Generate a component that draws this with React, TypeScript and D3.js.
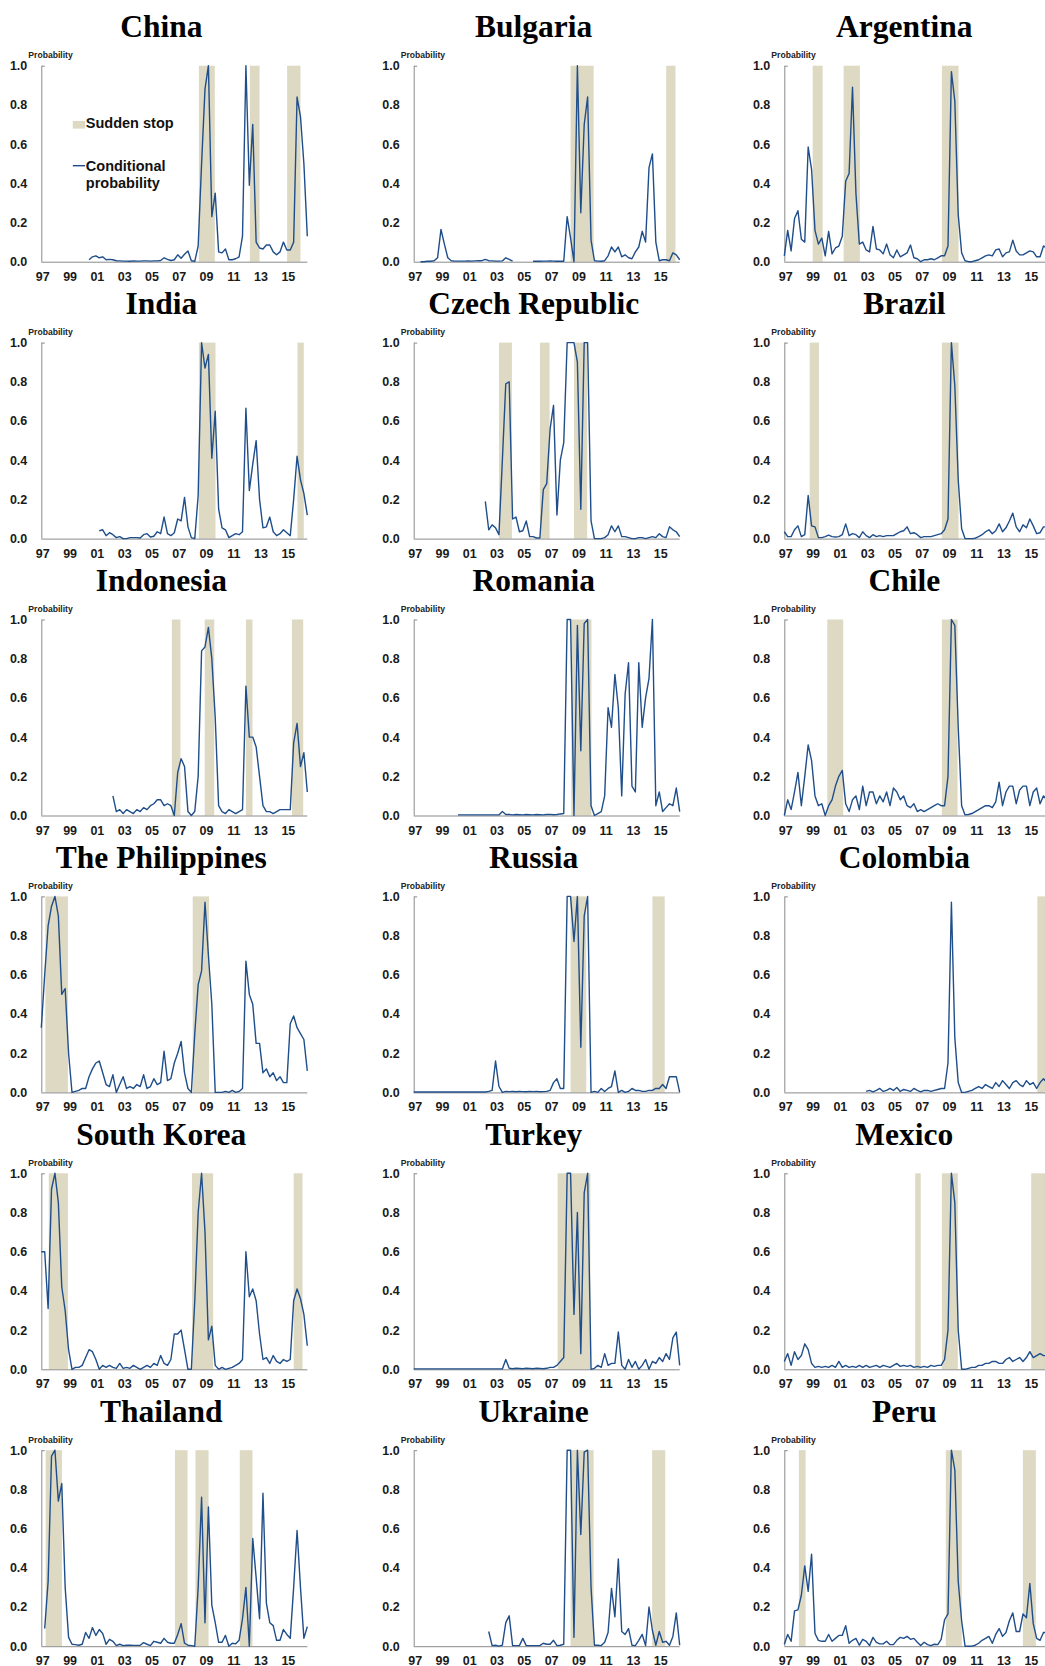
import * as d3 from 'd3';

// quarterly conditional probability, first value at `start`, null = no data
const yearTicks = [1997, 1999, 2001, 2003, 2005, 2007, 2009, 2011, 2013, 2015];
const yearLabels = ['97', '99', '01', '03', '05', '07', '09', '11', '13', '15'];
const probTicks = [0, 0.2, 0.4, 0.6, 0.8, 1.0];

const china = {
  name: 'China', start: 2000.5,
  prob: [0.01, 0.025, 0.03, 0.02, 0.025, 0.01, 0.012, 0.01, 0.005, 0.004, 0.003, 0.003, 0.002, 0.004, 0.003, 0.003,
    0.004, 0.004, 0.003, 0.004, 0.004, 0.006, 0.02, 0.012, 0.006, 0.01, 0.035, 0.018, 0.038, 0.055, 0.005, 0.002,
    0.08, 0.5, 0.88, 1.0, 0.23, 0.35, 0.05, 0.045, 0.065, 0.01, 0.01, 0.015, 0.025, 0.13, 1.0, 0.39, 0.7, 0.1,
    0.07, 0.065, 0.085, 0.085, 0.05, 0.035, 0.05, 0.1, 0.06, 0.06, 0.1, 0.84, 0.74, 0.5, 0.13],
  stops: [[2008.55, 2009.72], [2012.29, 2013.0], [2015.02, 2016.0]],
};
const bulgaria = {
  name: 'Bulgaria', start: 1997.5,
  prob: [0.0, 0.0, 0.002, 0.002, 0.005, 0.02, 0.165, 0.09, 0.02, 0.005, 0.003, 0.003, 0.003, 0.003, 0.004, 0.003,
    0.004, 0.005, 0.005, 0.012, 0.005, 0.004, 0.003, 0.003, 0.004, 0.02, 0.012, 0.003, null, null, null, null, null,
    0.002, 0.002, 0.002, 0.003, 0.003, 0.004, 0.003, 0.002, 0.002, 0.002, 0.23, 0.12, 0.0, 1.0, 0.25, 0.7, 0.84,
    0.11, 0.005, 0.003, 0.002, 0.005, 0.03, 0.075, 0.05, 0.075, 0.025, 0.035, 0.02, 0.015, 0.05, 0.075, 0.155,
    0.1, 0.48, 0.55, 0.1, 0.005, 0.01, 0.01, 0.005, 0.045, 0.035, 0.01],
  stops: [[2008.5, 2010.19], [2015.51, 2016.19]],
};
const argentina = {
  name: 'Argentina', start: 1997,
  prob: [0.03, 0.16, 0.055, 0.22, 0.26, 0.115, 0.1, 0.585, 0.47, 0.16, 0.09, 0.12, 0.03, 0.155, 0.04, 0.07,
    0.08, 0.13, 0.41, 0.45, 0.89, 0.35, 0.09, 0.1, 0.06, 0.05, 0.18, 0.065, 0.06, 0.04, 0.09, 0.035,
    0.02, 0.06, 0.025, 0.035, 0.045, 0.085, 0.02, 0.015, 0.0, 0.01, 0.01, 0.015, 0.01, 0.02, 0.03, 0.03,
    0.08, 0.97, 0.82, 0.24, 0.045, 0.005, 0.0, 0.0, 0.005, 0.01, 0.02, 0.03, 0.035, 0.03, 0.06, 0.065,
    0.025, 0.045, 0.05, 0.11, 0.055, 0.035, 0.035, 0.045, 0.055, 0.05, 0.025, 0.025, 0.08, 0.07, 0.06],
  stops: [[1999.08, 1999.81], [2001.35, 2002.54], [2008.55, 2009.77]],
};
const india = {
  name: 'India', start: 2001.25,
  prob: [0.04, 0.045, 0.015, 0.03, 0.02, 0.005, 0.01, 0.0, 0.0, 0.005, 0.005, 0.005, 0.003, 0.02, 0.025,
    0.008, 0.012, 0.035, 0.025, 0.11, 0.025, 0.015, 0.03, 0.1, 0.09, 0.21, 0.06, 0.005, 0.0, 0.22, 1.0,
    0.87, 0.94, 0.41, 0.65, 0.15, 0.055, 0.045, 0.005, 0.015, 0.025, 0.02, 0.035, 0.665, 0.245, 0.38, 0.5,
    0.2, 0.055, 0.06, 0.11, 0.035, 0.015, 0.025, 0.045, 0.03, 0.015, 0.2, 0.42, 0.3, 0.23, 0.12],
  stops: [[2008.55, 2009.77], [2015.78, 2016.24]],
};
const czech = {
  name: 'Czech Republic', start: 2002.25,
  prob: [0.19, 0.045, 0.07, 0.055, 0.02, 0.4, 0.79, 0.8, 0.1, 0.11, 0.035, 0.04, 0.09, 0.01, 0.01,
    0.003, 0.003, 0.25, 0.28, 0.56, 0.68, 0.12, 0.4, 0.49, 1.0, 1.0, 1.0, 0.9, 0.15, 1.0, 1.0,
    0.09, 0.0, 0.0, 0.0, 0.005, 0.02, 0.065, 0.035, 0.065, 0.01, 0.01, 0.005, 0.0, 0.0, 0.005, 0.005,
    0.0, 0.005, 0.01, 0.005, 0.025, 0.01, 0.005, 0.06, 0.045, 0.035, 0.01],
  stops: [[2003.25, 2004.2], [2006.25, 2006.96], [2008.75, 2009.72]],
};
const brazil = {
  name: 'Brazil', start: 1997,
  prob: [0.035, 0.01, 0.01, 0.045, 0.065, 0.01, 0.02, 0.22, 0.065, 0.06, 0.005, 0.005, 0.01, 0.018, 0.01, 0.008,
    0.01, 0.02, 0.075, 0.015, 0.025, 0.02, 0.005, 0.035, 0.015, 0.005, 0.02, 0.01, 0.015, 0.01, 0.015, 0.015,
    0.015, 0.025, 0.035, 0.04, 0.06, 0.025, 0.03, 0.02, 0.005, 0.01, 0.01, 0.01, 0.015, 0.02, 0.025, 0.045,
    0.1, 1.0, 0.78, 0.3, 0.05, 0.0, 0.0, 0.0, 0.002, 0.01, 0.02, 0.035, 0.045, 0.025, 0.04, 0.075,
    0.035, 0.055, 0.09, 0.13, 0.06, 0.035, 0.07, 0.055, 0.1, 0.065, 0.025, 0.03, 0.06, 0.06, 0.06],
  stops: [[1998.86, 1999.54], [2008.55, 2009.77]],
};
const indonesia = {
  name: 'Indonesia', start: 2002.25,
  prob: [0.1, 0.02, 0.03, 0.01, 0.03, 0.02, 0.01, 0.03, 0.02, 0.04, 0.03, 0.05, 0.06, 0.08, 0.08,
    0.05, 0.06, 0.05, 0.0, 0.22, 0.29, 0.25, 0.02, 0.0, 0.02, 0.2, 0.84, 0.86, 0.96, 0.8, 0.5,
    0.05, 0.02, 0.01, 0.03, 0.02, 0.01, 0.02, 0.03, 0.66, 0.4, 0.4, 0.35, 0.2, 0.05, 0.02, 0.02,
    0.01, 0.02, 0.03, 0.03, 0.03, 0.03, 0.37, 0.47, 0.25, 0.32, 0.12],
  stops: [[2006.57, 2007.2], [2008.98, 2009.68], [2012.0, 2012.48], [2015.37, 2016.2]],
};
const romania = {
  name: 'Romania', start: 2000.25,
  prob: [0.003, 0.003, 0.003, 0.003, 0.003, 0.003, 0.003, 0.003, 0.003, 0.003, 0.003, 0.003, 0.003, 0.02, 0.005,
    0.005, 0.003, 0.005, 0.004, 0.003, 0.005, 0.004, 0.003, 0.005, 0.004, 0.003, 0.005, 0.006, 0.004, 0.005, 0.008,
    0.01, 1.0, 1.0, 0.0, 0.97, 0.33, 0.98, 1.0, 0.05, 0.0, 0.01, 0.02, 0.1, 0.55, 0.45, 0.72,
    0.55, 0.1, 0.62, 0.78, 0.15, 0.12, 0.78, 0.45, 0.6, 0.7, 1.0, 0.05, 0.12, 0.02, 0.04, 0.06,
    0.05, 0.14, 0.02],
  stops: [[2008.55, 2010.03]],
};
const chile = {
  name: 'Chile', start: 1997,
  prob: [0.0, 0.08, 0.03, 0.12, 0.22, 0.05, 0.2, 0.36, 0.28, 0.1, 0.05, 0.06, 0.0, 0.05, 0.08, 0.15,
    0.2, 0.23, 0.06, 0.02, 0.08, 0.1, 0.03, 0.15, 0.05, 0.12, 0.12, 0.06, 0.1, 0.07, 0.12, 0.05,
    0.14, 0.12, 0.08, 0.1, 0.05, 0.04, 0.06, 0.02, 0.03, 0.02, 0.03, 0.04, 0.05, 0.06, 0.05, 0.05,
    0.2, 1.0, 0.97, 0.45, 0.05, 0.003, 0.005, 0.01, 0.02, 0.03, 0.04, 0.05, 0.05, 0.04, 0.07, 0.17,
    0.05, 0.12, 0.15, 0.15, 0.06, 0.13, 0.15, 0.15, 0.05, 0.12, 0.14, 0.06, 0.1, 0.08, 0.1],
  stops: [[2000.15, 2001.32], [2008.55, 2009.7]],
};
const philippines = {
  name: 'The Philippines', start: 1997,
  prob: [0.33, 0.6, 0.85, 0.95, 1.0, 0.9, 0.5, 0.53, 0.2, 0.0, 0.005, 0.01, 0.02, 0.02, 0.08, 0.12,
    0.15, 0.16, 0.1, 0.04, 0.03, 0.09, 0.0, 0.04, 0.08, 0.02, 0.03, 0.02, 0.04, 0.03, 0.09, 0.02,
    0.03, 0.07, 0.04, 0.05, 0.21, 0.06, 0.07, 0.15, 0.2, 0.26, 0.1, 0.02, 0.0, 0.3, 0.55, 0.62,
    0.97, 0.7, 0.45, 0.0, 0.0, 0.0, 0.005, 0.0, 0.01, 0.0, 0.005, 0.02, 0.67, 0.5, 0.45, 0.25,
    0.25, 0.1, 0.12, 0.08, 0.1, 0.06, 0.08, 0.05, 0.05, 0.35, 0.39, 0.33, 0.3, 0.27, 0.11],
  stops: [[1997.3, 1998.95], [2008.1, 2009.3]],
};
const russia = {
  name: 'Russia', start: 1997,
  prob: [0.002, 0.002, 0.002, 0.002, 0.002, 0.002, 0.002, 0.002, 0.002, 0.002, 0.002, 0.002, 0.002, 0.002, 0.002, 0.002,
    0.002, 0.002, 0.002, 0.002, 0.002, 0.002, 0.005, 0.01, 0.16, 0.03, 0.0, 0.005, 0.004, 0.005, 0.003, 0.005,
    0.004, 0.003, 0.005, 0.004, 0.005, 0.003, 0.004, 0.005, 0.01, 0.05, 0.07, 0.02, 0.02, 1.0, 1.0, 0.77,
    1.0, 0.23, 0.9, 1.0, 0.0, 0.005, 0.0, 0.02, 0.005, 0.02, 0.03, 0.11, 0.0, 0.01, 0.0, 0.005,
    0.02, 0.01, 0.01, 0.005, 0.005, 0.01, 0.01, 0.02, 0.02, 0.04, 0.02, 0.08, 0.08, 0.08, 0.0],
  stops: [[2008.5, 2009.65], [2014.5, 2015.4]],
};
const colombia = {
  name: 'Colombia', start: 2003,
  prob: [0.005, 0.01, 0.003, 0.01, 0.02, 0.005, 0.01, 0.02, 0.01, 0.025, 0.005, 0.015, 0.01, 0.005, 0.02, 0.01,
    0.003, 0.01, 0.01, 0.005, 0.01, 0.015, 0.02, 0.02, 0.15, 0.97, 0.28, 0.05, 0.0, 0.0, 0.005, 0.01,
    0.02, 0.03, 0.02, 0.04, 0.03, 0.02, 0.05, 0.03, 0.06, 0.04, 0.02, 0.05, 0.06, 0.04, 0.03, 0.06,
    0.04, 0.05, 0.02, 0.05, 0.07, 0.05, 0.06],
  stops: [[2015.55, 2016.6]],
};
const southKorea = {
  name: 'South Korea', start: 1997,
  prob: [0.6, 0.6, 0.31, 0.92, 1.0, 0.85, 0.42, 0.3, 0.1, 0.0, 0.01, 0.01, 0.02, 0.06, 0.1, 0.09,
    0.05, 0.0, 0.02, 0.01, 0.02, 0.01, 0.005, 0.03, 0.005, 0.01, 0.005, 0.02, 0.01, 0.0, 0.01, 0.02,
    0.01, 0.03, 0.02, 0.07, 0.03, 0.02, 0.05, 0.18, 0.18, 0.2, 0.1, 0.0, 0.0, 0.35, 0.8, 1.0,
    0.7, 0.15, 0.22, 0.02, 0.0, 0.01, 0.0, 0.005, 0.01, 0.02, 0.03, 0.05, 0.6, 0.37, 0.41, 0.35,
    0.18, 0.05, 0.06, 0.03, 0.07, 0.04, 0.03, 0.05, 0.04, 0.05, 0.35, 0.41, 0.36, 0.28, 0.12],
  stops: [[1997.55, 1998.95], [2008.05, 2009.6], [2015.5, 2016.15]],
};
const turkey = {
  name: 'Turkey', start: 1997,
  prob: [0.002, 0.002, 0.002, 0.002, 0.002, 0.002, 0.002, 0.002, 0.002, 0.002, 0.002, 0.002, 0.002, 0.002, 0.002, 0.002,
    0.002, 0.002, 0.002, 0.002, 0.002, 0.002, 0.002, 0.002, 0.002, 0.002, 0.002, 0.05, 0.005, 0.003, 0.005, 0.004,
    0.003, 0.005, 0.004, 0.003, 0.005, 0.004, 0.003, 0.005, 0.01, 0.01, 0.02, 0.04, 0.06, 1.0, 1.0, 0.28,
    0.8, 0.08, 0.9, 1.0, 0.0, 0.005, 0.02, 0.01, 0.08, 0.02, 0.03, 0.03, 0.19, 0.02, 0.0, 0.05,
    0.01, 0.04, 0.0, 0.02, 0.05, 0.0, 0.04, 0.03, 0.06, 0.04, 0.08, 0.05, 0.16, 0.19, 0.02],
  stops: [[2007.55, 2009.95]],
};
const mexico = {
  name: 'Mexico', start: 1997,
  prob: [0.04, 0.08, 0.02, 0.09, 0.05, 0.07, 0.13, 0.1, 0.03, 0.01, 0.015, 0.01, 0.015, 0.01, 0.02, 0.01,
    0.04, 0.01, 0.02, 0.01, 0.015, 0.01, 0.02, 0.01, 0.02, 0.01, 0.015, 0.02, 0.01, 0.02, 0.015, 0.01,
    0.02, 0.03, 0.015, 0.02, 0.015, 0.02, 0.01, 0.015, 0.01, 0.015, 0.01, 0.02, 0.015, 0.02, 0.02, 0.05,
    0.2, 1.0, 0.85, 0.2, 0.0, 0.0, 0.005, 0.01, 0.01, 0.02, 0.02, 0.03, 0.03, 0.04, 0.04, 0.03,
    0.03, 0.05, 0.06, 0.04, 0.05, 0.06, 0.04, 0.06, 0.09, 0.06, 0.07, 0.08, 0.07, 0.07, 0.07],
  stops: [[2006.6, 2007.0], [2008.55, 2009.72], [2015.1, 2016.6]],
};
const thailand = {
  name: 'Thailand', start: 1997.25,
  prob: [0.09, 0.33, 0.97, 1.0, 0.74, 0.83, 0.3, 0.045, 0.01, 0.008, 0.005, 0.01, 0.07, 0.04, 0.095,
    0.055, 0.085, 0.065, 0.01, 0.035, 0.025, 0.003, 0.01, 0.003, 0.005, 0.005, 0.004, 0.004, 0.005, 0.018, 0.01,
    0.003, 0.025, 0.02, 0.015, 0.04, 0.02, 0.015, 0.015, 0.06, 0.115, 0.015, 0.005, 0.003, 0.0, 0.3, 0.76,
    0.12, 0.71, 0.21, 0.12, 0.02, 0.02, 0.055, 0.0, 0.015, 0.012, 0.03, 0.14, 0.3, 0.0, 0.55, 0.35,
    0.14, 0.78, 0.22, 0.12, 0.105, 0.03, 0.03, 0.085, 0.06, 0.04, 0.3, 0.59, 0.3, 0.04, 0.1],
  stops: [[1997.32, 1998.51], [2006.8, 2007.72], [2008.3, 2009.26], [2011.55, 2012.48]],
};
const ukraine = {
  name: 'Ukraine', start: 2002.5,
  prob: [0.075, 0.003, 0.005, 0.0, 0.005, 0.12, 0.155, 0.003, 0.003, 0.003, 0.04, 0.003, 0.003, 0.003,
    0.003, 0.003, 0.015, 0.01, 0.01, 0.03, 0.003, 0.005, 0.01, 1.0, 1.0, 0.045, 1.0, 0.57, 0.99, 1.0,
    0.3, 0.005, 0.005, 0.003, 0.02, 0.07, 0.295, 0.15, 0.445, 0.075, 0.06, 0.09, 0.005, 0.003, 0.03, 0.06,
    0.003, 0.2, 0.08, 0.005, 0.075, 0.02, 0.025, 0.005, 0.05, 0.17, 0.005],
  stops: [[2008.5, 2010.19], [2014.48, 2015.44]],
};
const peru = {
  name: 'Peru', start: 1997,
  prob: [0.01, 0.06, 0.025, 0.18, 0.185, 0.26, 0.41, 0.28, 0.47, 0.065, 0.03, 0.025, 0.025, 0.06, 0.025, 0.04,
    0.055, 0.055, 0.105, 0.015, 0.03, 0.04, 0.005, 0.035, 0.025, 0.003, 0.045, 0.02, 0.012, 0.012, 0.025, 0.008,
    0.008, 0.03, 0.045, 0.04, 0.05, 0.035, 0.04, 0.02, 0.003, 0.02, 0.008, 0.003, 0.01, 0.008, 0.035, 0.135,
    0.165, 1.0, 0.9, 0.33, 0.13, 0.0, 0.0, 0.0, 0.005, 0.015, 0.03, 0.04, 0.05, 0.015, 0.06, 0.09,
    0.05, 0.07, 0.13, 0.17, 0.075, 0.075, 0.165, 0.145, 0.32, 0.115, 0.04, 0.03, 0.07, 0.07, 0.07],
  stops: [[1998.07, 1998.56], [2008.84, 2010.01], [2014.49, 2015.44]],
};

const panels = [
  china, bulgaria, argentina,
  india, czech, brazil,
  indonesia, romania, chile,
  philippines, russia, colombia,
  southKorea, turkey, mexico,
  thailand, ukraine, peru,
];

const W = 1045;
const H = 1666;
const colX = [41.3, 413.7, 784.3];
const rowTop = 65.7;
const rowStep = 276.9;
const plotW = 266;
const plotH = 196;

const lineColor = '#1f4e8a';
const shadeColor = '#ddd9c3';
const axisColor = '#8a8a8a';
const sans = '"Liberation Sans", Arial, Helvetica, sans-serif';
const serif = '"Liberation Serif", "Times New Roman", Times, serif';

const x = d3.scaleLinear().domain([1997, 2016.5]).range([0, plotW]);
const y = d3.scaleLinear().domain([0, 1]).range([plotH, 0]);

type Pt = { t: number; v: number | null };

const line = d3.line<Pt>()
  .defined(d => d.v !== null)
  .x(d => x(d.t))
  .y(d => y(d.v as number));

function Legend() {
  return (
    <g fontFamily={sans} fontWeight="bold" fontSize={14.5} fill="#111">
      <rect x={31.5} y={55.3} width={12.3} height={7.6} fill={shadeColor} />
      <text x={44.5} y={62.8}>Sudden stop</text>
      <line x1={31.5} x2={43.8} y1={100} y2={100} stroke={lineColor} strokeWidth={1.4} />
      <text x={44.5} y={105}>Conditional</text>
      <text x={44.5} y={122.6}>probability</text>
    </g>
  );
}

function Panel({ p, i }: { p: any; i: number }) {
  const col = i % 3;
  const row = Math.floor(i / 3);
  const left = colX[col];
  const top = rowTop + row * rowStep;
  const pts: Pt[] = p.prob.map((v: number | null, k: number) => ({ t: p.start + k * 0.25, v }));

  return (
    <g transform={`translate(${left},${top})`}>
      <text x={120} y={-28.5} textAnchor="middle" fontFamily={serif} fontWeight="bold" fontSize={31.5} fill="#000">
        {p.name}
      </text>
      <text x={-13} y={-7.4} fontFamily={sans} fontWeight="bold" fontSize={8.6} fill="#222">
        Probability
      </text>

      {p.stops.map(([a, b]: number[], k: number) => (
        <rect key={k} x={x(a)} y={0} width={x(b) - x(a)} height={plotH} fill={shadeColor} />
      ))}

      <line x1={0.5} x2={0.5} y1={0} y2={plotH} stroke={axisColor} strokeWidth={1} />
      <line x1={0.5} x2={3.5} y1={0.5} y2={0.5} stroke={axisColor} strokeWidth={1} />
      <line x1={0} x2={plotW} y1={plotH + 0.5} y2={plotH + 0.5} stroke={axisColor} strokeWidth={1} />

      {probTicks.map(v => (
        <text key={v} x={-14} y={y(v)} dy="0.36em" textAnchor="end"
          fontFamily={sans} fontWeight="bold" fontSize={12.5} fill="#1a1a1a">
          {v.toFixed(1)}
        </text>
      ))}
      {yearTicks.map((t, k) => (
        <text key={t} x={x(t) + 1.5} y={plotH + 19} textAnchor="middle"
          fontFamily={sans} fontWeight="bold" fontSize={12.5} fill="#1a1a1a">
          {yearLabels[k]}
        </text>
      ))}

      <path d={line(pts) || ''} fill="none" stroke={lineColor} strokeWidth={1.4} strokeLinejoin="round" />

      {i === 0 && <Legend />}
    </g>
  );
}

export default function App() {
  return (
    <svg width={W} height={H} viewBox={`0 0 ${W} ${H}`}
      style={{ position: 'absolute', left: 0, top: 0, background: '#fff', display: 'block' }}>
      <rect width={W} height={H} fill="#fff" />
      {panels.map((p, i) => <Panel key={p.name} p={p} i={i} />)}
    </svg>
  );
}
